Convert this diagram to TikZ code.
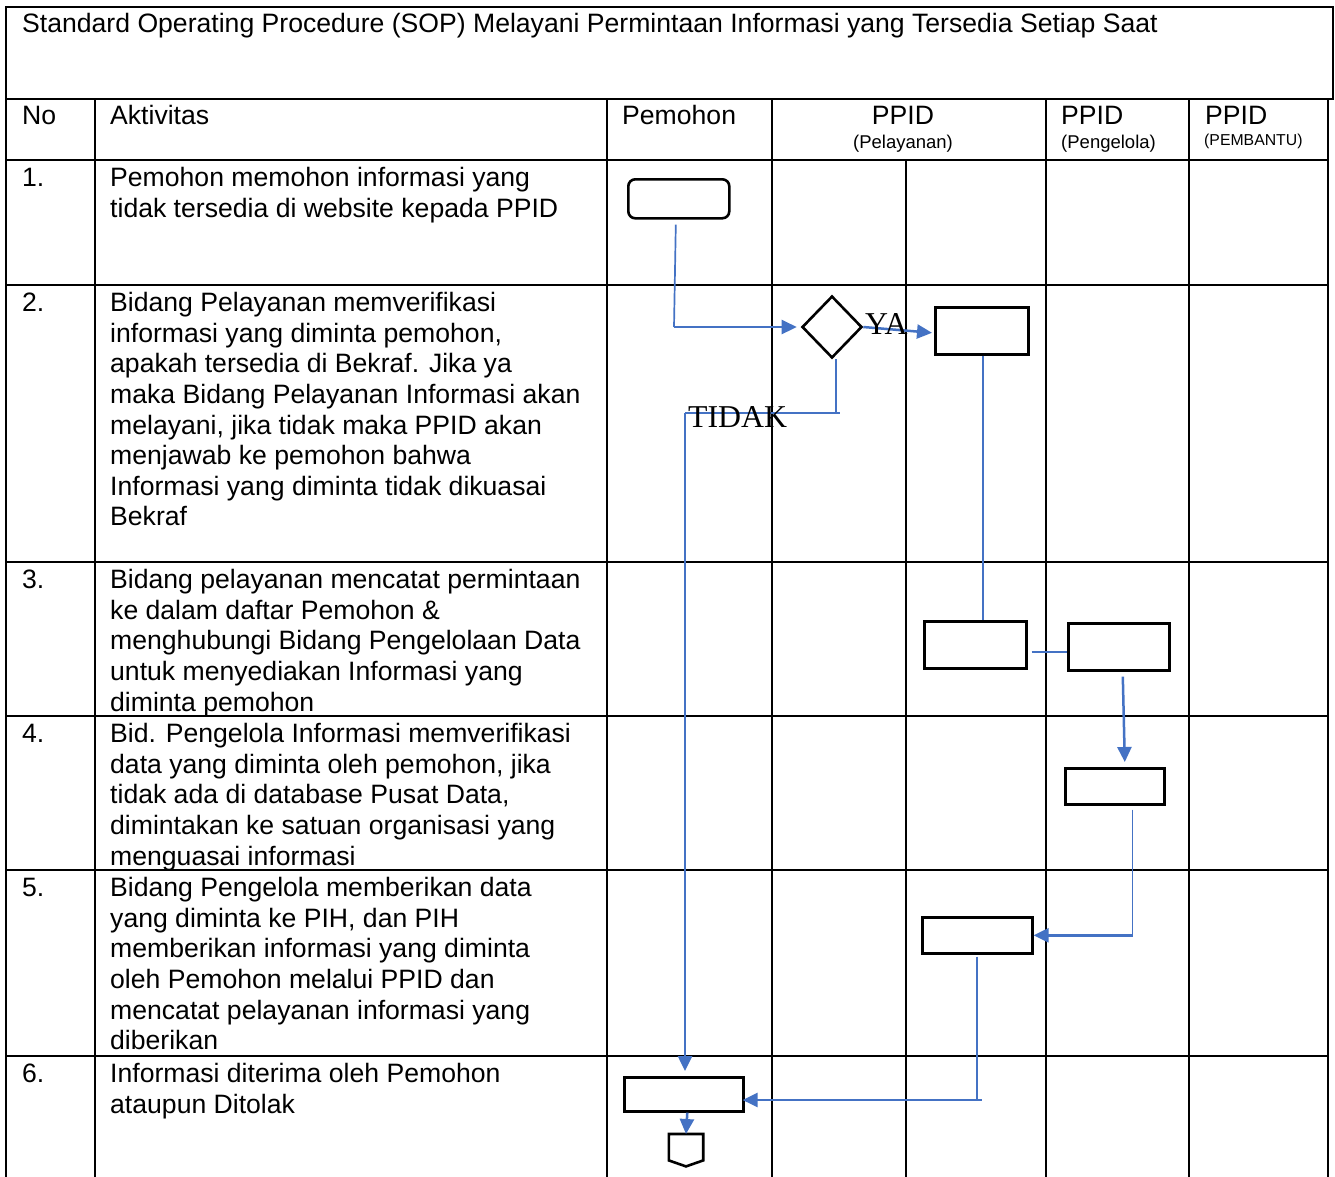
\documentclass[tikz,border=0pt]{standalone}
\usepackage{fontspec}
\setmainfont{Liberation Sans}
\newfontfamily\labelserif{Liberation Serif}
\usetikzlibrary{shapes.geometric,arrows.meta}

\newcommand{\bodyfont}{\fontsize{26.6pt}{30.6pt}\selectfont}
\newcommand{\subfont}{\fontsize{18.5pt}{21pt}\selectfont}
\newcommand{\tinyfont}{\fontsize{15.8pt}{18pt}\selectfont}

\tikzset{
  grid/.style={line width=2.6pt, black},
  cell/.style={anchor=north west, inner sep=0pt, align=left, font=\bodyfont},
  head/.style={anchor=base west, inner sep=0pt, font=\bodyfont},
  box/.style={draw, line width=2.6pt, fill=white, anchor=north west, inner sep=0pt},
  flow/.style={draw=flowblue, line width=1.7pt},
  flowthick/.style={draw=flowblue, line width=2.5pt},
  tip/.style={-{Triangle[length=15pt,width=14pt]}},
  answer/.style={inner sep=0pt, font=\labelserif\fontsize{31.8pt}{32pt}\selectfont},
}
\definecolor{flowblue}{HTML}{4472C4}

\begin{document}
\begin{tikzpicture}[x=1pt,y=-1pt]
\useasboundingbox (0,0) rectangle (1335,1176);
\fill[white] (0,0) rectangle (1335,1176);

% title frame
\draw[grid] (6,7) rectangle (1333,99);
% column rules
\foreach \cx in {6,95,607,772,1046,1189,1328}
  \draw[grid] (\cx,99) -- (\cx,1180);
\draw[grid] (906,160) -- (906,1180);
% row rules
\foreach \ry in {160,285,562,716,870,1056}
  \draw[grid] (6,\ry) -- (1328,\ry);

% title and header texts
\node[cell] (title) at (22,11) {\strut Standard Operating Procedure (SOP) Melayani Permintaan Informasi yang Tersedia Setiap Saat};
\node[head] (hno) at (22,124) {No};
\node[head] (hakt) at (110,124) {Aktivitas};
\node[head] (hpem) at (622,124) {Pemohon};
\node[head, anchor=base] (hppid1) at (903,124) {PPID};
\node[anchor=base, inner sep=0pt, font=\subfont] (hpel) at (903,148) {(Pelayanan)};
\node[head] (hppid2) at (1061,124) {PPID};
\node[anchor=base west, inner sep=0pt, font=\subfont] (hpgl) at (1061,148) {(Pengelola)};
\node[head] (hppid3) at (1205,124) {PPID};
\node[anchor=base west, inner sep=0pt, font=\tinyfont] (hpbt) at (1204,145) {(PEMBANTU)};

% step numbers
\node[cell] (n1) at (22,165) {\strut 1.};
\node[cell] (n2) at (22,290) {\strut 2.};
\node[cell] (n3) at (22,567) {\strut 3.};
\node[cell] (n4) at (22,721) {\strut 4.};
\node[cell] (n5) at (22,875) {\strut 5.};
\node[cell] (n6) at (22,1061) {\strut 6.};

% step descriptions
\node[cell] (a1) at (110,165) {\strut Pemohon memohon informasi yang\\
  tidak tersedia di website kepada PPID};
\node[cell] (a2) at (110,290) {\strut Bidang Pelayanan memverifikasi\\
  informasi yang diminta pemohon,\\
  apakah tersedia di Bekraf. Jika ya\\
  maka Bidang Pelayanan Informasi akan\\
  melayani, jika tidak maka PPID akan\\
  menjawab ke pemohon bahwa\\
  Informasi yang diminta tidak dikuasai\\
  Bekraf};
\node[cell] (a3) at (110,567) {\strut Bidang pelayanan mencatat permintaan\\
  ke dalam daftar Pemohon \&\\
  menghubungi Bidang Pengelolaan Data\\
  untuk menyediakan Informasi yang\\
  diminta pemohon};
\node[cell] (a4) at (110,721) {\strut Bid. Pengelola Informasi memverifikasi\\
  data yang diminta oleh pemohon, jika\\
  tidak ada di database Pusat Data,\\
  dimintakan ke satuan organisasi yang\\
  menguasai informasi};
\node[cell] (a5) at (110,875) {\strut Bidang Pengelola memberikan data\\
  yang diminta ke PIH, dan PIH\\
  memberikan informasi yang diminta\\
  oleh Pemohon melalui PPID dan\\
  mencatat pelayanan informasi yang\\
  diberikan};
\node[cell] (a6) at (110,1061) {\strut Informasi diterima oleh Pemohon\\
  ataupun Ditolak};

% flow shapes
\node[box, rounded corners=7pt, minimum width=101pt, minimum height=39pt] (start) at (627,178) {};
\node[draw, line width=2.6pt, fill=white, diamond, inner sep=0pt,
      minimum width=60pt, minimum height=62pt] (dec) at (832,327) {};
\node[box, minimum width=93pt, minimum height=47pt] (b2) at (934,306) {};
\node[box, minimum width=102pt, minimum height=47pt] (b3a) at (923,620) {};
\node[box, minimum width=101pt, minimum height=47pt] (b3b) at (1067,622) {};
\node[box, minimum width=99pt, minimum height=36pt] (b4) at (1064,767) {};
\node[box, minimum width=110pt, minimum height=36pt] (b5) at (921,916) {};
\node[box, minimum width=119pt, minimum height=34pt] (b6) at (623,1076) {};
\node[anchor=north, inner sep=0pt, minimum width=34pt, minimum height=26pt] (off) at (686,1134) {};
\draw[line width=2.6pt, line join=miter] (off.north west) -- (off.north east)
  -- (off.south east) -- ([yshift=-6pt]off.south) -- (off.south west) -- cycle;

% connector bends
\coordinate (k1) at (674,327);
\coordinate (kt1) at (836,413);
\coordinate (kt2) at (685,413);
\path (b5.east) ++(99,0) coordinate (k4);
\coordinate (k5) at (977,1100);

% connectors
\draw[flow] ([xshift=-3pt,yshift=-5pt]start.south) -- (k1);
\draw[flowthick, tip] (k1) -- ([xshift=-4pt]dec.west);
\draw[flowthick, tip] (dec.east) -- ([xshift=-2pt,yshift=-2pt]b2.west);
\draw[flow] ([xshift=4pt]dec.south) -- (kt1) -- ([xshift=4pt]kt1);
\draw[flow] (kt1) -- (kt2);
\draw[flowthick, tip] (kt2) -- ([yshift=5pt]kt2 |- b6.north);
\draw[flow] ([xshift=1.5pt]b2.south) -- ([xshift=1.5pt]b2.south |- b3a.north);
\draw[flow] ([xshift=4pt,yshift=-7pt]b3a.east) -- ([yshift=-7pt]b3a.east -| b3b.west);
\draw[flowthick, tip] ([xshift=4pt,yshift=-5pt]b3b.south) -- ([xshift=10pt,yshift=5pt]b4.north);
\draw[flow] ([yshift=-4pt]k4 |- b4.south) -- (k4);
\draw[flowthick, tip] (k4) -- (b5.east);
\draw[flow] ([yshift=-2pt]k5 |- b5.south) -- (k5) -- ([xshift=5pt]k5);
\draw[flowthick, tip] (k5) -- ([xshift=-2pt]k5 -| b6.east);
\draw[flowthick, tip] ([xshift=3.5pt]b6.south) -- ([xshift=0pt]off.north);

% decision labels
\node[answer, anchor=base west] (ya) at (865,334) {YA};
\node[answer, anchor=base west] (tidak) at (688,427) {TIDAK};
\end{tikzpicture}
\end{document}
